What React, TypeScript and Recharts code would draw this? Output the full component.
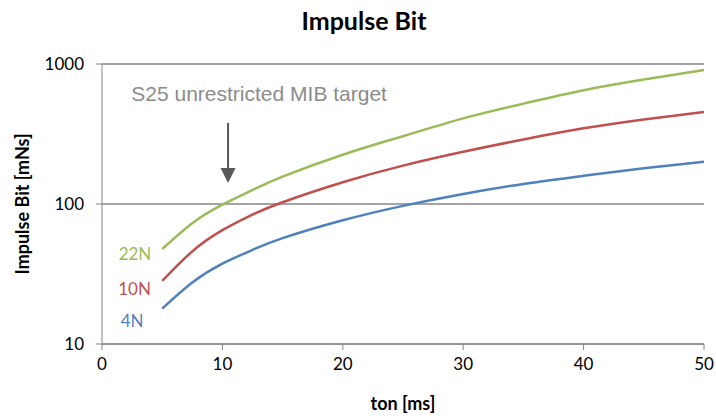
import React from 'react';
import { LineChart, Line, XAxis, YAxis, CartesianGrid, ReferenceLine, ReferenceDot, Label } from 'recharts';

const tonMs = [5, 7.5, 10, 12.5, 15, 20, 25, 30, 35, 40, 45, 50];
const bit22N = [47.7, 73, 99, 126, 157, 225, 305, 409, 521, 650, 775, 906];
const bit10N = [28.2, 45.9, 65, 84, 103, 143, 188, 236, 289, 347, 402, 454];
const bit4N = [17.9, 27.5, 37.5, 47, 57, 76.5, 97, 118, 139, 159, 180, 200];

const xTicks = [0, 10, 20, 30, 40, 50];
const yTicks = [10, 100, 1000];

const seriesLabels = [
  { text: '22N', x: 2.74, y: 44, color: '#9BBB59' },
  { text: '10N', x: 2.7, y: 25.1, color: '#C0504D' },
  { text: '4N', x: 2.5, y: 14.8, color: '#4F81BD' },
];

const data = tonMs.map((t, i) => ({ t, g: bit22N[i], r: bit10N[i], b: bit4N[i] }));

const font = 'Lato, "Noto Sans", sans-serif';
const axisGray = '#868686';

const Arrowhead = (props: any) => {
  const { cx, cy } = props;
  return <path d={`M${cx - 7.5},${cy - 15} L${cx + 7.5},${cy - 15} L${cx},${cy} Z`} fill="#595959" />;
};

const SeriesText = (color: string, text: string) => (props: any) => (
  <text x={props.cx} y={props.cy} textAnchor="middle" dominantBaseline="central"
    fill={color} fontSize={17} fontFamily={font}>{text}</text>
);

const NoteText = (props: any) => (
  <text x={props.cx} y={props.cy} textAnchor="middle" fill="#8c8c8c"
    fontSize={21} fontFamily='"Liberation Sans", Arial, sans-serif'>S25 unrestricted MIB target</text>
);

export default function App() {
  return (
    <div style={{ width: 716, height: 418, background: '#fff', position: 'relative' }}>
      <style>{'body{margin:0;overflow:hidden}.recharts-surface{overflow:visible}'}</style>
      <div style={{ position: 'absolute', top: 5, left: 0, width: 716, textAlign: 'center', paddingLeft: 6,
        fontFamily: font, fontWeight: 700, fontSize: 25, lineHeight: 1.2, color: '#000' }}>Impulse Bit</div>
      <LineChart width={716} height={418} data={data} margin={{ top: 64, right: 12, bottom: 44, left: 42 }}>
        <CartesianGrid horizontal vertical={false} stroke={axisGray} strokeWidth={1.3} />
        <XAxis dataKey="t" type="number" domain={[0, 50]} ticks={xTicks} height={30}
          stroke={axisGray} tickSize={6} tickMargin={8}
          tick={{ fill: '#000', fontSize: 17, fontFamily: font }}>
          <Label value="ton [ms]" position="insideBottom" offset={-36}
            style={{ fontFamily: font, fontWeight: 700, fontSize: 18, fill: '#000' }} />
        </XAxis>
        <YAxis scale="log" domain={[10, 1000]} ticks={yTicks} allowDataOverflow width={60}
          stroke={axisGray} tickSize={6} tickMargin={12}
          tick={{ fill: '#000', fontSize: 17, fontFamily: font }}>
          <Label value="Impulse Bit [mNs]" angle={-90} position="insideLeft" offset={-19}
            style={{ fontFamily: font, fontWeight: 700, fontSize: 18, fill: '#000', textAnchor: 'middle' }} />
        </YAxis>
        <Line dataKey="g" type="natural" stroke="#9BBB59" strokeWidth={2.5} dot={false} isAnimationActive={false} />
        <Line dataKey="r" type="natural" stroke="#C0504D" strokeWidth={2.5} dot={false} isAnimationActive={false} />
        <Line dataKey="b" type="natural" stroke="#4F81BD" strokeWidth={2.5} dot={false} isAnimationActive={false} />
        <ReferenceLine segment={[{ x: 10.47, y: 380 }, { x: 10.47, y: 160 }]} stroke="#595959" strokeWidth={2} />
        <ReferenceDot x={10.47} y={141} r={0} shape={Arrowhead} />
        <ReferenceDot x={13.05} y={544} r={0} shape={NoteText} />
        {seriesLabels.map((s) => (
          <ReferenceDot key={s.text} x={s.x} y={s.y} r={0} shape={SeriesText(s.color, s.text)} />
        ))}
      </LineChart>
    </div>
  );
}
